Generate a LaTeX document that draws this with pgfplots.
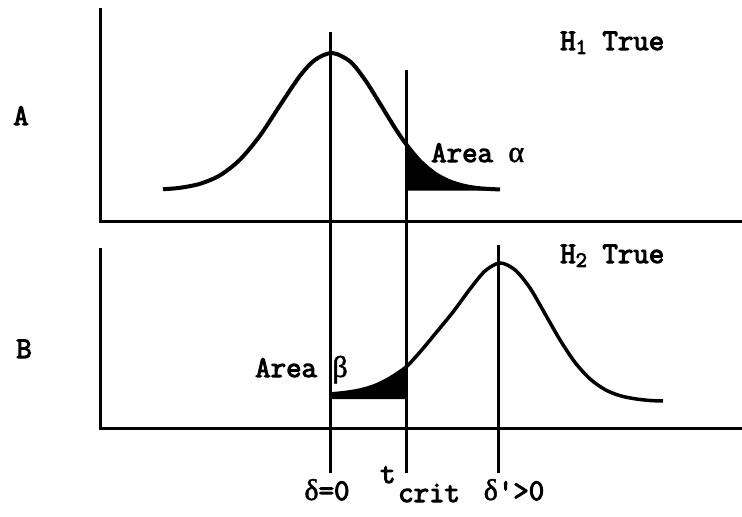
\documentclass[border=0pt]{standalone}
\usepackage{fontspec}
\newfontfamily\tyb{Latin Modern Mono}[FakeBold=3.5]
\newfontfamily\grk{Liberation Serif}[FakeBold=1.5]
\usepackage{pgfplots}
\pgfplotsset{compat=1.18}
\newcommand{\lab}{\fontsize{30bp}{34bp}\selectfont\tyb}
\newcommand{\sub}[1]{\raisebox{-0.3ex}{\fontsize{22bp}{24bp}\selectfont #1}}
\begin{document}
\begin{tikzpicture}
\begin{axis}[scale only axis, width=742bp, height=517bp,
  xmin=0, xmax=742, ymin=0, ymax=517, y dir=reverse,
  hide axis, clip=true]
% shaded areas
\addplot[fill=black, draw=none] coordinates {(406,144) (420,160.9) (435,173.6) (450,181.5) (465,186) (480,188.3) (500,189.5) (500,190.5) (406,190.5)} -- cycle;
\addplot[fill=black, draw=none] coordinates {(330,394) (345,392.5) (360,390) (375,385.5) (390,378) (406,367) (406,399) (330,399)} -- cycle;
% axes of the two panels
\addplot[black, line width=3bp] coordinates {(100,8) (100,221) (742,221)};
\addplot[black, line width=3bp] coordinates {(100,248) (100,428) (742,428)};
% reference lines
\addplot[black, line width=3bp] coordinates {(330,32) (330,473)};
\addplot[black, line width=3bp] coordinates {(406,70) (406,473)};
\addplot[black, line width=3bp] coordinates {(498,245) (498,473)};
% panel A curve
\addplot[black, line width=4bp, smooth] coordinates {(163,189.2) (180,187.8) (200,183.8) (220,175.3) (240,159.6) (260,135.6) (280,105.3) (300,75.8) (315,59.9) (332,53) (350,61.4) (365,79.8) (380,103.6) (395,128) (406,144) (420,160.9) (435,173.6) (450,181.5) (465,186) (480,188.3) (500,189.5)};
% panel B curve
\addplot[black, line width=3.5bp, smooth] coordinates {(330,394) (345,392.5) (360,390) (375,385.5) (390,378) (406,367) (420,352) (435,334) (453,312) (470,289) (485,271) (500,263) (515,269.9) (530,288) (545,313.8) (560,339.9) (575,362.4) (590,378.9) (605,389.6) (620,395.7) (635,398.8) (650,400.5) (663,401)};
% texts
\node[anchor=base, inner sep=0] at (axis cs:21,125) {\lab A};
\node[anchor=base, inner sep=0] at (axis cs:24,358) {\lab B};
\node[anchor=base west, inner sep=0] at (axis cs:560,50) {\lab H\sub{1} True};
\node[anchor=base west, inner sep=0] at (axis cs:560,263) {\lab H\sub{2} True};
\node[anchor=base west, inner sep=0] at (axis cs:431,162) {\lab Area {\grk α}};
\node[anchor=base west, inner sep=0] at (axis cs:255,377) {\lab Area {\grk β}};
\node[anchor=base, inner sep=0] at (axis cs:327,500) {\lab {\grk δ}=0};
\node[anchor=base west, inner sep=0] at (axis cs:380,483) {\lab t};
\node[anchor=base west, inner sep=0] at (axis cs:398,502) {\lab crit};
\node[anchor=base, inner sep=0] at (axis cs:514,500) {\lab {\grk δ}'>0};
\path (rel axis cs:0,0) rectangle (rel axis cs:1,1);
\end{axis}
\path (current axis.south west) rectangle (current axis.north east);
\end{tikzpicture}
\end{document}
